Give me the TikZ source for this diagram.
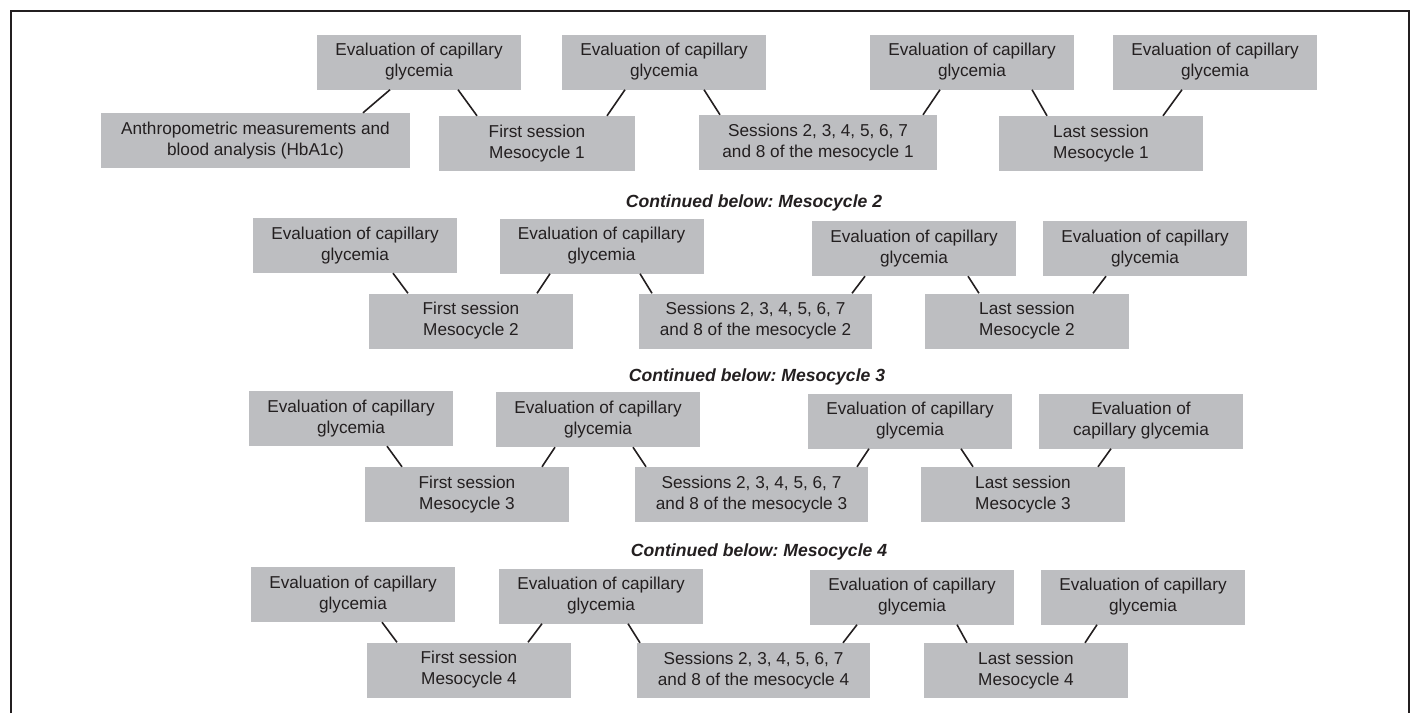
\documentclass[tikz,border=0pt]{standalone}
\usepackage{fontspec}
\setmainfont{Liberation Sans}
\usepackage{tikz}
\usetikzlibrary{positioning}

\definecolor{boxgray}{RGB}{189,190,193}
\definecolor{inkgray}{RGB}{35,31,32}
\frenchspacing

\begin{document}
\begin{tikzpicture}
	[x=1pt,y=-1pt,
	main node/.style={fill=boxgray,text=inkgray,align=center,inner sep=0pt,
		minimum width=204,minimum height=55,font=\fontsize{17.2}{21}\selectfont},
	head node/.style={text=inkgray,font=\fontsize{17.6}{20}\selectfont\bfseries\itshape},
	link/.style={draw=inkgray,line width=1.6pt}]
	\useasboundingbox (0,0) rectangle (1413,713);
	\draw[inkgray,line width=2.4pt] (11,713) -- (11,11) -- (1409,11) -- (1409,713);
	
	% mesocycle 1
	\node [main node] (e1) at (419,62) {Evaluation of capillary\\glycemia};
	\node [main node] (e2) at (664,62) {Evaluation of capillary\\glycemia};
	\node [main node] (e3) at (972,62) {Evaluation of capillary\\glycemia};
	\node [main node] (e4) at (1215,62) {Evaluation of capillary\\glycemia};
	\node [main node,minimum width=309] (a) at (255.5,140.5) {Anthropometric measurements and\\blood analysis (HbA1c)};
	\node [main node,minimum width=196] (f1) at (537,143.5) {First session\\Mesocycle 1};
	\node [main node,minimum width=238] (s1) at (818,142.5) {Sessions 2, 3, 4, 5, 6, 7\\and 8 of the mesocycle 1};
	\node [main node] (l1) at (1101,143.5) {Last session\\Mesocycle 1};
	
	% mesocycle 2
	\node [head node] (h2) at (754,203) {Continued below: Mesocycle 2};
	\node [main node] (e5) at (355,245.5) {Evaluation of capillary\\glycemia};
	\node [main node] (e6) at (601.5,246) {Evaluation of capillary\\glycemia};
	\node [main node] (e7) at (914,248.5) {Evaluation of capillary\\glycemia};
	\node [main node] (e8) at (1145,248.5) {Evaluation of capillary\\glycemia};
	\node [main node] (f2) at (471,321) {First session\\Mesocycle 2};
	\node [main node,minimum width=233] (s2) at (755.5,321) {Sessions 2, 3, 4, 5, 6, 7\\and 8 of the mesocycle 2};
	\node [main node] (l2) at (1027,321) {Last session\\Mesocycle 2};
	
	% mesocycle 3
	\node [head node] (h3) at (757,377) {Continued below: Mesocycle 3};
	\node [main node] (e9) at (351,418.5) {Evaluation of capillary\\glycemia};
	\node [main node] (e10) at (598,419.5) {Evaluation of capillary\\glycemia};
	\node [main node] (e11) at (910,421) {Evaluation of capillary\\glycemia};
	\node [main node] (e12) at (1141,421) {Evaluation of\\capillary glycemia};
	\node [main node] (f3) at (467,494.5) {First session\\Mesocycle 3};
	\node [main node,minimum width=233] (s3) at (751.5,494.5) {Sessions 2, 3, 4, 5, 6, 7\\and 8 of the mesocycle 3};
	\node [main node] (l3) at (1023,494.5) {Last session\\Mesocycle 3};
	
	% mesocycle 4
	\node [head node] (h4) at (759,552) {Continued below: Mesocycle 4};
	\node [main node] (e13) at (353,594.5) {Evaluation of capillary\\glycemia};
	\node [main node] (e14) at (601,596) {Evaluation of capillary\\glycemia};
	\node [main node] (e15) at (912,597) {Evaluation of capillary\\glycemia};
	\node [main node] (e16) at (1143,597) {Evaluation of capillary\\glycemia};
	\node [main node] (f4) at (469,670) {First session\\Mesocycle 4};
	\node [main node,minimum width=233] (s4) at (753.5,670.5) {Sessions 2, 3, 4, 5, 6, 7\\and 8 of the mesocycle 4};
	\node [main node] (l4) at (1026,670.5) {Last session\\Mesocycle 4};
	
	\path[link]
	([xshift=-29]e1.south) edge ([xshift=107.5]a.north)
	([xshift=39]e1.south) edge ([xshift=-60]f1.north)
	([xshift=-39]e2.south) edge ([xshift=70]f1.north)
	([xshift=40]e2.south) edge ([xshift=-98]s1.north)
	([xshift=-32]e3.south) edge ([xshift=105]s1.north)
	([xshift=60]e3.south) edge ([xshift=-54]l1.north)
	([xshift=-33]e4.south) edge ([xshift=62]l1.north)
	
	([xshift=38]e5.south) edge ([xshift=-63]f2.north)
	([xshift=-51.5]e6.south) edge ([xshift=66]f2.north)
	([xshift=38.5]e6.south) edge ([xshift=-103.5]s2.north)
	([xshift=-49]e7.south) edge ([xshift=96.5]s2.north)
	([xshift=54]e7.south) edge ([xshift=-48]l2.north)
	([xshift=-39]e8.south) edge ([xshift=66]l2.north)
	
	([xshift=36]e9.south) edge ([xshift=-65]f3.north)
	([xshift=-43]e10.south) edge ([xshift=75]f3.north)
	([xshift=35]e10.south) edge ([xshift=-105.5]s3.north)
	([xshift=-41]e11.south) edge ([xshift=105.5]s3.north)
	([xshift=51]e11.south) edge ([xshift=-50]l3.north)
	([xshift=-30]e12.south) edge ([xshift=75]l3.north)
	
	([xshift=29]e13.south) edge ([xshift=-72]f4.north)
	([xshift=-59]e14.south) edge ([xshift=59]f4.north)
	([xshift=27]e14.south) edge ([xshift=-113.5]s4.north)
	([xshift=-55]e15.south) edge ([xshift=89.5]s4.north)
	([xshift=45]e15.south) edge ([xshift=-59]l4.north)
	([xshift=-46]e16.south) edge ([xshift=59]l4.north)
	;
	
\end{tikzpicture}
\end{document}
